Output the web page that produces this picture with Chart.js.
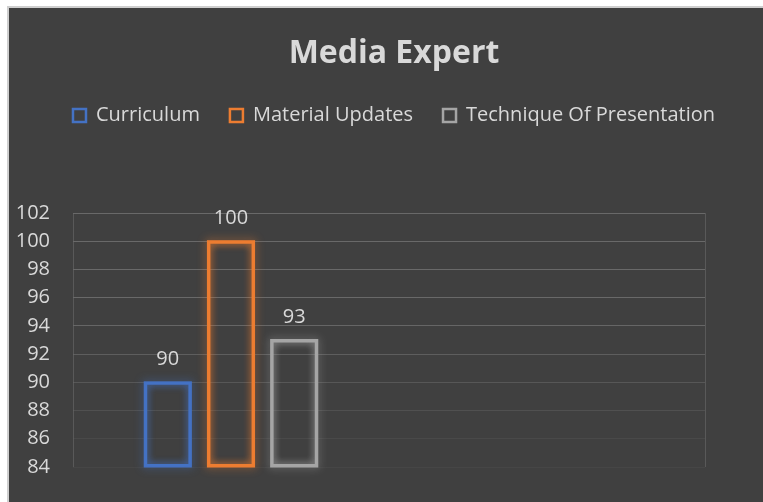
<!DOCTYPE html>
<html>
<head>
<meta charset="utf-8">
<script src="https://cdn.jsdelivr.net/npm/chart.js@4"></script>
<style>
  html, body { margin: 0; padding: 0; background: #ffffff; overflow: hidden; }
  #frame {
    position: absolute; left: 7px; top: 6px; width: 800px; height: 540px;
    background: #404040; border-left: 2px solid #cfcfcf; border-top: 2px solid #cfcfcf;
  }
  #wrap { position: absolute; left: 0; top: 0; width: 770px; height: 494px; }
</style>
</head>
<body>
<div id="frame"><div id="wrap"><canvas id="chart"></canvas></div></div>
<script>
// ── Data ──
const categories = ['', ''];
const seriesNames = ['Curriculum', 'Material Updates', 'Technique Of Presentation'];
const curriculum = [90, null];
const materialUpdates = [100, null];
const techniqueOfPresentation = [93, null];
const yTicks = [84, 86, 88, 90, 92, 94, 96, 98, 100, 102];

const colors = ['#4472c4', '#ed7d31', '#a5a5a5'];
const glow = ['rgba(68,114,196,0.9)', 'rgba(237,125,49,0.9)', 'rgba(165,165,165,0.9)'];
const TEXT = '#d9d9d9';
const FONT = "'Open Sans', 'Noto Sans', sans-serif";
const yMin = yTicks[0], yMax = yTicks[yTicks.length - 1];

// ── Layout bits ──
const TITLE_PAD_TOP = 27, TITLE_PAD_BOTTOM = 2, TITLE_SIZE = 32;
const PLOT_TOP = 205;

// ── Helpers ──
const mkSet = (label, data, i) => ({
  label, data,
  backgroundColor: 'rgba(0,0,0,0)',
  borderColor: colors[i],
  borderWidth: c => (c.raw == null && c.type === 'data') ? 0 : 2.5,
  borderSkipped: false,
  base: yMin,
  categoryPercentage: 0.6,
  barPercentage: 0.73
});

// glow round the bars + inner glow
const glowPlugin = {
  id: 'glow',
  beforeDatasetDraw(chart, args) {
    const ctx = chart.ctx, i = args.index;
    const ds = chart.data.datasets[i];
    ctx.save();
    chart.getDatasetMeta(i).data.forEach((el, j) => {
      if (ds.data[j] == null) return;
      const p = el.getProps(['x', 'y', 'base', 'width'], true);
      ctx.shadowColor = glow[i];
      ctx.shadowBlur = 9;
      ctx.strokeStyle = colors[i];
      ctx.lineWidth = 2;
      ctx.strokeRect(p.x - p.width / 2, p.y, p.width, p.base - p.y);
    });
    ctx.restore();
    ctx.save();
    ctx.shadowColor = glow[i];
    ctx.shadowBlur = 7;
  },
  afterDatasetDraw(chart) { chart.ctx.restore(); }
};

// value labels above the bars
const valueLabels = {
  id: 'valueLabels',
  afterDatasetsDraw(chart) {
    const ctx = chart.ctx;
    ctx.save();
    ctx.font = '20px ' + FONT;
    ctx.fillStyle = TEXT;
    ctx.textAlign = 'center';
    ctx.textBaseline = 'middle';
    chart.data.datasets.forEach((ds, i) => {
      chart.getDatasetMeta(i).data.forEach((el, j) => {
        if (ds.data[j] == null) return;
        ctx.fillText(String(ds.data[j]), el.x, el.y - 23);
      });
    });
    ctx.restore();
  }
};

// push plot area down under the legend
const legendGap = {
  id: 'legendGap',
  beforeInit(chart) {
    const fit = chart.legend.fit;
    chart.legend.fit = function () {
      fit.bind(chart.legend)();
      const titleH = TITLE_PAD_TOP + TITLE_SIZE * 1.2 + TITLE_PAD_BOTTOM;
      this.height = PLOT_TOP - titleH;
    };
  }
};

const gridColor = c => {
  const v = c.tick ? c.tick.value : yMax;
  const a = Math.max(0, Math.min(1, (v - 85) / 10));
  return `rgba(105,105,105,${(0.15 + 0.85 * a).toFixed(2)})`;
};

new Chart(document.getElementById('chart').getContext('2d'), {
  type: 'bar',
  data: {
    labels: categories,
    datasets: [
      mkSet(seriesNames[0], curriculum, 0),
      mkSet(seriesNames[1], materialUpdates, 1),
      mkSet(seriesNames[2], techniqueOfPresentation, 2)
    ]
  },
  options: {
    responsive: true,
    maintainAspectRatio: false,
    animation: false,
    layout: { padding: { left: 0, right: 0, top: 0, bottom: 29 } },
    plugins: {
      title: {
        display: true, text: 'Media Expert', color: TEXT,
        font: { family: FONT, size: TITLE_SIZE, weight: 'bold', lineHeight: 1.2 },
        padding: { top: TITLE_PAD_TOP, bottom: TITLE_PAD_BOTTOM }
      },
      legend: {
        labels: { color: TEXT, font: { family: FONT, size: 20 }, boxWidth: 13, boxHeight: 13, padding: 30 }
      },
      tooltip: { enabled: false }
    },
    scales: {
      x: {
        ticks: { display: false },
        grid: { drawTicks: false, color: c => c.index === 1 ? 'rgba(0,0,0,0)' : '#595959' },
        border: { display: false }
      },
      y: {
        min: yMin, max: yMax,
        afterBuildTicks: s => { s.ticks = yTicks.map(v => ({ value: v })); },
        afterFit: s => { s.width = 64; },
        ticks: { color: TEXT, font: { family: FONT, size: 20 }, padding: 23 },
        grid: { color: gridColor, drawTicks: false },
        border: { display: false }
      },
      yRight: {
        position: 'right', display: true,
        ticks: { display: false },
        grid: { display: false },
        border: { display: false },
        afterFit: s => { s.width = 74; }
      }
    }
  },
  plugins: [glowPlugin, valueLabels, legendGap]
});
</script>
</body>
</html>
